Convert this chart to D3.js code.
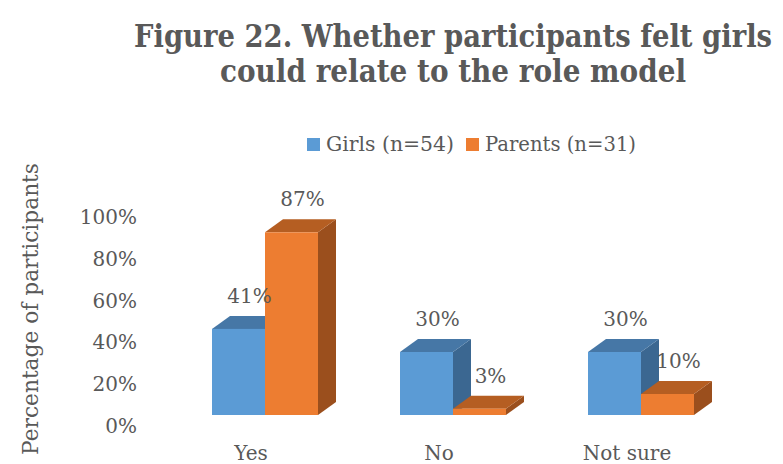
<!DOCTYPE html>
<html>
<head>
<meta charset="utf-8">
<script src="https://cdn.jsdelivr.net/npm/d3@7"></script>
<style>
  html, body { margin: 0; padding: 0; background: #fff; }
  svg { display: block; }
  text { font-family: "DejaVu Serif", serif; fill: #595959; }
  text.title { font-family: "DejaVu Serif Condensed", "DejaVu Serif", serif; font-stretch: condensed; }
</style>
</head>
<body>
<svg id="chart" width="783" height="464"></svg>
<script>
const titleLines = ["Figure 22. Whether participants felt girls", "could relate to the role model"];
const categories = ["Yes", "No", "Not sure"];
const seriesNames = ["Girls  (n=54)", "Parents (n=31)"];
const girlsValues = [41, 30, 30];
const parentsValues = [87, 3, 10];
const tickValues = [0, 20, 40, 60, 80, 100];
const yAxisTitle = "Percentage of participants";

const colors = {
  front: ["#5B9BD5", "#ED7D31"],
  top:   ["#4677A6", "#B55E22"],
  side:  ["#3B6791", "#9B4F1D"]
};

const svg = d3.select("#chart");
const series = [girlsValues, parentsValues];

// 3D depth offsets
const depthX = 18, depthY = -13;

const x = d3.scalePoint().domain(categories).range([265, 641]);
const xSub = d3.scaleBand().domain(seriesNames).range([-53, 53]).padding(0);
const y = d3.scaleLinear().domain([0, 100]).range([415, 205]);
const yAxisScale = d3.scaleLinear().domain([0, 100]).range([426, 217]);

// Title
svg.append("g").selectAll("text").data(titleLines).join("text")
  .attr("class", "title")
  .attr("transform", (d, i) => `translate(453,${47 + i * 35}) scale(1,1.17)`)
  .attr("text-anchor", "middle")
  .attr("font-weight", "bold")
  .attr("font-size", 27)
  .attr("textLength", (d, i) => i === 0 ? 638 : 466)
  .attr("lengthAdjust", "spacingAndGlyphs")
  .text(d => d);

// Legend
const legend = svg.append("g");
const legendX = [307, 466];
const legendW = [128, 151];
seriesNames.forEach((name, i) => {
  legend.append("rect")
    .attr("x", legendX[i]).attr("y", 138)
    .attr("width", 13).attr("height", 13)
    .attr("fill", colors.front[i]);
  legend.append("text")
    .attr("x", legendX[i] + 19).attr("y", 151)
    .attr("font-size", 20)
    .attr("textLength", legendW[i])
    .attr("lengthAdjust", "spacingAndGlyphs")
    .text(name);
});

// Y axis tick labels
svg.append("g").selectAll("text").data(tickValues).join("text")
  .attr("x", 137)
  .attr("y", d => yAxisScale(d))
  .attr("dy", "0.35em")
  .attr("text-anchor", "end")
  .attr("font-size", 20)
  .text(d => d + "%");

// Y axis title
svg.append("text")
  .attr("transform", "translate(38,309) rotate(-90)")
  .attr("text-anchor", "middle")
  .attr("font-size", 22)
  .attr("textLength", 292)
  .attr("lengthAdjust", "spacingAndGlyphs")
  .text(yAxisTitle);

// Bars
const barsG = svg.append("g");
categories.forEach((cat, ci) => {
  series.forEach((vals, si) => {
    const v = vals[ci];
    const x0 = x(cat) + xSub(seriesNames[si]);
    const x1 = x0 + xSub.bandwidth();
    const yt = y(v), yb = y(0);
    const g = barsG.append("g");
    g.append("polygon")
      .attr("points", [[x1, yt], [x1 + depthX, yt + depthY], [x1 + depthX, yb + depthY], [x1, yb]].map(p => p.join(",")).join(" "))
      .attr("fill", colors.side[si]);
    g.append("polygon")
      .attr("points", [[x0, yt], [x0 + depthX, yt + depthY], [x1 + depthX, yt + depthY], [x1, yt]].map(p => p.join(",")).join(" "))
      .attr("fill", colors.top[si]);
    g.append("rect")
      .attr("x", x0).attr("y", yt)
      .attr("width", x1 - x0).attr("height", yb - yt)
      .attr("fill", colors.front[si]);
  });
});

// Data labels
const labelsG = svg.append("g");
categories.forEach((cat, ci) => {
  series.forEach((vals, si) => {
    const v = vals[ci];
    const cx = x(cat) + xSub(seriesNames[si]) + xSub.bandwidth() / 2 + 11;
    labelsG.append("text")
      .attr("x", cx)
      .attr("y", y(v) + depthY - 13)
      .attr("text-anchor", "middle")
      .attr("font-size", 20)
      .text(v + "%");
  });
});

// Category labels
svg.append("g").selectAll("text").data(categories).join("text")
  .attr("x", d => x(d) - 14)
  .attr("y", 460)
  .attr("text-anchor", "middle")
  .attr("font-size", 20)
  .text(d => d);
</script>
</body>
</html>
